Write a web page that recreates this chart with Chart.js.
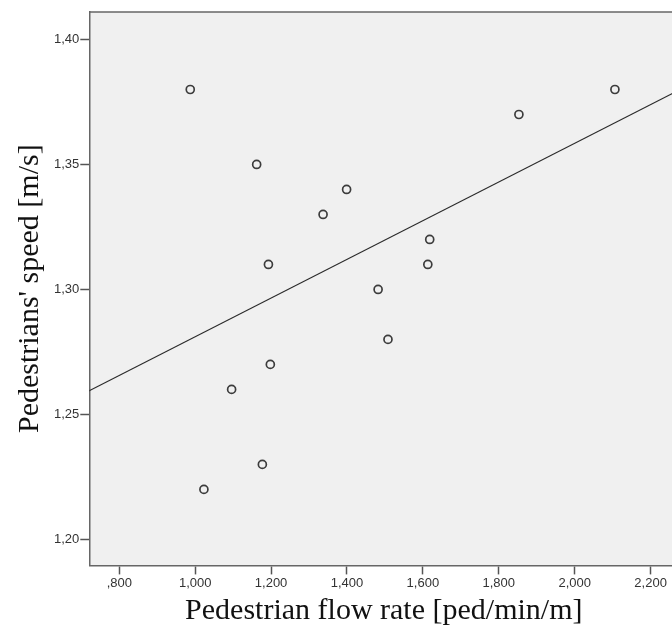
<!DOCTYPE html>
<html>
<head>
<meta charset="utf-8">
<script src="https://cdn.jsdelivr.net/npm/chart.js@4/dist/chart.umd.min.js"></script>
<style>
  html, body { margin: 0; padding: 0; background: #fff; overflow: hidden; }
  #wrap { width: 672px; height: 629px; overflow: hidden; }
</style>
</head>
<body>
<div id="wrap"><canvas id="chart"></canvas></div>
<script>
// flow rate [ped/min/m] and speed [m/s]
const flowRate = [0.987, 1.162, 1.399, 1.337, 1.193, 1.618, 1.613, 1.482, 1.508, 1.198, 1.096, 1.177, 1.023, 1.853, 2.106];
const speed    = [1.38,  1.35,  1.34,  1.33,  1.31,  1.32,  1.31,  1.30,  1.28,  1.27,  1.26,  1.23,  1.22,  1.37,  1.38];

// fit line end points (as drawn in the picture)
const fitX = [0.70, 2.30];
const fitY = [1.2579, 1.3817];

const xTicks = [0.8, 1.0, 1.2, 1.4, 1.6, 1.8, 2.0, 2.2];
const yTicks = [1.20, 1.25, 1.30, 1.35, 1.40];

let points = flowRate.map((x, i) => ({x: x, y: speed[i]}));
let fitLine = fitX.map((x, i) => ({x: x, y: fitY[i]}));

function commaNum(v, digits){
    let s = v.toFixed(digits).replace('.', ',');
    if (s.startsWith('0,')) s = s.substring(1);
    return s;
}

const plotBox = {
    id: 'plotBox',
    beforeDraw(chart){
        let a = chart.chartArea;
        let c = chart.ctx;
        c.save();
        c.fillStyle = '#f0f0f0';
        c.fillRect(a.left, a.top, a.right - a.left, a.bottom - a.top);
        c.restore();
    },
    afterDraw(chart){
        let a = chart.chartArea;
        let c = chart.ctx;
        c.save();
        c.strokeStyle = '#666';
        c.lineWidth = 1.5;
        c.beginPath();
        c.moveTo(a.left, a.top);
        c.lineTo(a.right + 5, a.top);
        c.stroke();
        c.restore();
    }
};

const canvas = document.getElementById('chart');
canvas.width = 684;
canvas.height = 629;

new Chart(canvas, {
    type: 'scatter',
    data: {
        datasets: [{
            data: points,
            showLine: false,
            pointRadius: 4,
            pointHoverRadius: 4,
            pointBorderWidth: 1.7,
            pointBorderColor: '#3c3c3c',
            pointBackgroundColor: 'rgba(0,0,0,0)'
        }, {
            type: 'line',
            data: fitLine,
            borderColor: '#2a2a2a',
            borderWidth: 1.1,
            pointRadius: 0,
            fill: false
        }]
    },
    options: {
        responsive: false,
        animation: false,
        layout: { padding: { left: 12, right: 0, top: 12, bottom: 0 } },
        plugins: { legend: { display: false }, tooltip: { enabled: false } },
        scales: {
            x: {
                type: 'linear',
                min: 0.721,
                max: 2.273,
                afterBuildTicks: (ax) => { ax.ticks = xTicks.map(v => ({value: v})); },
                ticks: {
                    callback: (v) => commaNum(v, 3),
                    font: { family: 'Liberation Sans, Arial', size: 13 },
                    color: '#333',
                    padding: 1,
                    maxRotation: 0,
                    autoSkip: false
                },
                grid: { drawOnChartArea: false, drawTicks: true, tickLength: 9, tickColor: '#555', tickWidth: 1.5 },
                border: { display: true, color: '#666', width: 1.5 },
                title: {
                    display: true,
                    text: 'Pedestrian flow rate [ped/min/m]',
                    font: { family: 'Liberation Serif, Times New Roman', size: 30 },
                    color: '#111',
                    padding: { top: 1, bottom: 0 }
                }
            },
            y: {
                type: 'linear',
                min: 1.1896,
                max: 1.411,
                afterBuildTicks: (ax) => { ax.ticks = yTicks.map(v => ({value: v})); },
                ticks: {
                    callback: (v) => commaNum(v, 2),
                    font: { family: 'Liberation Sans, Arial', size: 13 },
                    color: '#333',
                    padding: 1
                },
                grid: { drawOnChartArea: false, drawTicks: true, tickLength: 9, tickColor: '#555', tickWidth: 1.5 },
                border: { display: true, color: '#666', width: 1.5 },
                title: {
                    display: true,
                    text: "Pedestrians' speed [m/s]",
                    font: { family: 'Liberation Serif, Times New Roman', size: 30 },
                    color: '#111',
                    padding: { top: 0, bottom: 5 }
                }
            }
        }
    },
    plugins: [plotBox]
});
</script>
</body>
</html>
